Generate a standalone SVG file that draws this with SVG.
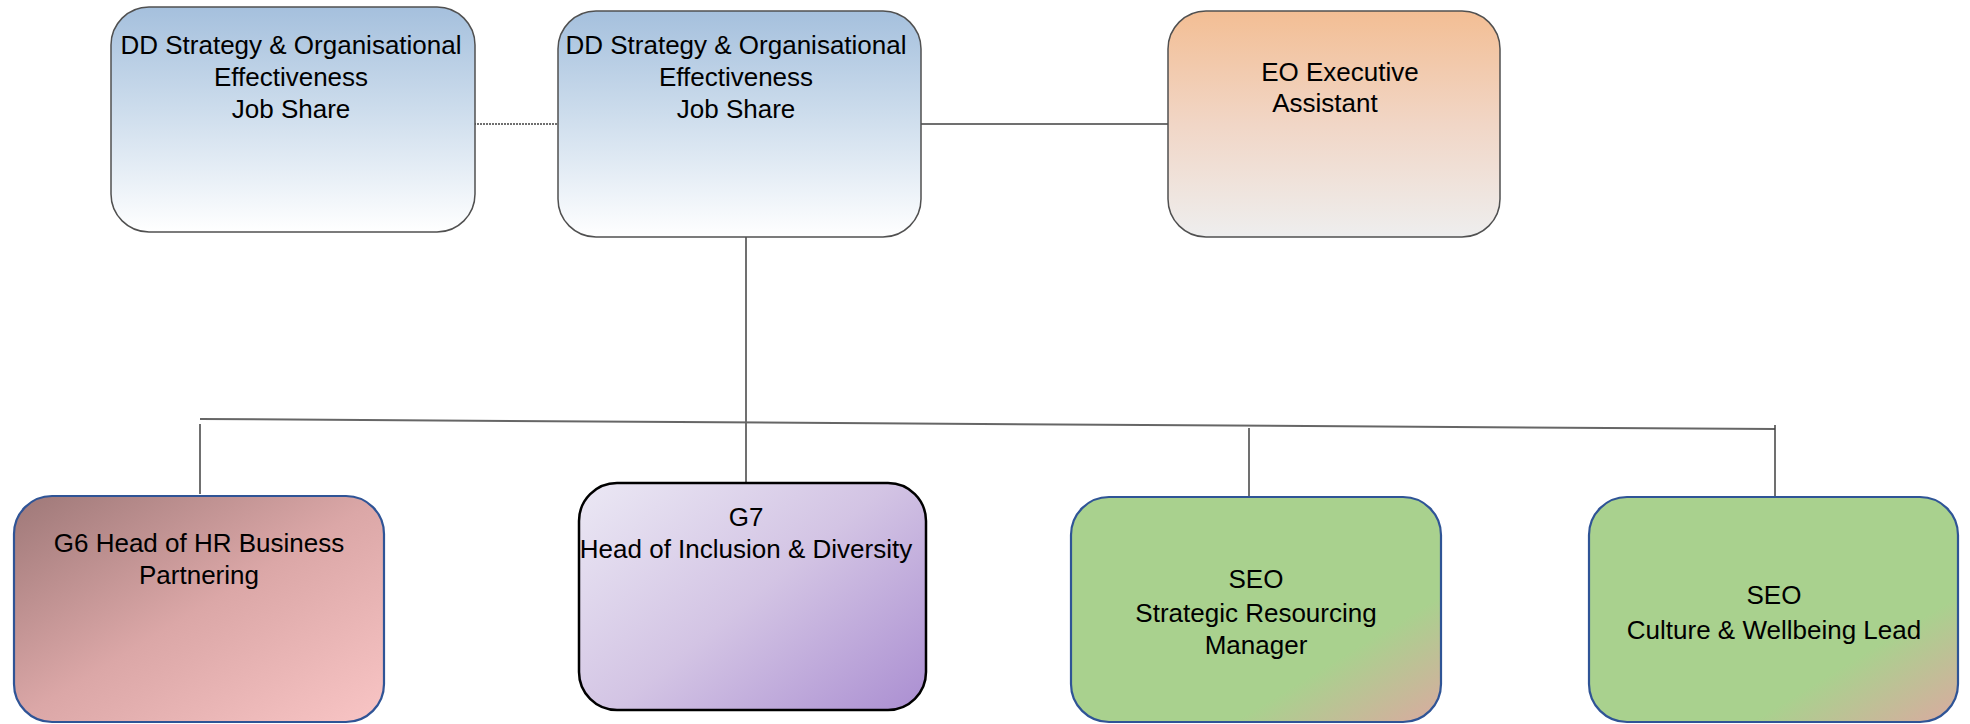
<svg xmlns="http://www.w3.org/2000/svg" width="1970" height="724" viewBox="0 0 1970 724">
<defs>
<linearGradient id="gBlue" x1="0" y1="0" x2="0" y2="1">
<stop offset="0" stop-color="#A5C0DD"/>
<stop offset="0.45" stop-color="#CCDCEC"/>
<stop offset="1" stop-color="#FFFFFF"/>
</linearGradient>
<linearGradient id="gOrange" x1="0" y1="0" x2="0" y2="1">
<stop offset="0" stop-color="#F3BE94"/>
<stop offset="0.5" stop-color="#F1D6C6"/>
<stop offset="1" stop-color="#EEEEEE"/>
</linearGradient>
<linearGradient id="gRose" x1="0" y1="0" x2="1" y2="1">
<stop offset="0" stop-color="#9E7878"/>
<stop offset="0.5" stop-color="#DBA7A7"/>
<stop offset="1" stop-color="#F9C5C5"/>
</linearGradient>
<linearGradient id="gPurple" x1="0" y1="0.1" x2="1" y2="0.9">
<stop offset="0" stop-color="#E9E5F3"/>
<stop offset="0.5" stop-color="#D3C4E4"/>
<stop offset="1" stop-color="#AE93D3"/>
</linearGradient>
<linearGradient id="gGreen" x1="0" y1="0" x2="1" y2="1">
<stop offset="0" stop-color="#A9D18E"/>
<stop offset="0.72" stop-color="#A9D18E"/>
<stop offset="1" stop-color="#DAAAA0"/>
</linearGradient>
</defs>
<style>
text{font-family:"Liberation Sans",Arial,sans-serif;font-size:26px;fill:#000;text-anchor:middle}
.top{stroke:#505050;stroke-width:1.5}
.blue{stroke:#2F5496;stroke-width:2.2}
.blk{stroke:#000;stroke-width:2.5}
.ln{stroke:#404040;stroke-width:1.5;fill:none}
.lg{stroke:#666;stroke-width:2;fill:none}
</style>
<rect width="1970" height="724" fill="#fff"/>
<g id="connectors">
<line class="ln" x1="468" y1="124" x2="557" y2="124" stroke-dasharray="2,1"/>
<line class="ln" x1="921" y1="124" x2="1168" y2="124"/>
<line class="ln" x1="746" y1="237" x2="746" y2="483"/>
<line class="lg" x1="200" y1="419" x2="1775" y2="429"/>
<line class="ln" x1="200" y1="424" x2="200" y2="494"/>
<line class="ln" x1="1249" y1="428" x2="1249" y2="497"/>
<line class="ln" x1="1775" y1="425" x2="1775" y2="496"/>
</g>
<g id="dd1">
<rect class="top" x="111" y="7" width="364" height="225" rx="38" fill="url(#gBlue)"/>
<text x="291" y="54">DD Strategy &amp; Organisational</text>
<text x="291" y="86">Effectiveness</text>
<text x="291" y="118">Job Share</text>
</g>
<g id="dd2">
<rect class="top" x="558" y="11" width="363" height="226" rx="38" fill="url(#gBlue)"/>
<text x="736" y="54">DD Strategy &amp; Organisational</text>
<text x="736" y="86">Effectiveness</text>
<text x="736" y="118">Job Share</text>
</g>
<g id="eo">
<rect class="top" x="1168" y="11" width="332" height="226" rx="38" fill="url(#gOrange)"/>
<text x="1340" y="81">EO Executive</text>
<text x="1325" y="112">Assistant</text>
</g>
<g id="g6">
<rect class="blue" x="14" y="496" width="370" height="226" rx="38" fill="url(#gRose)"/>
<text x="199" y="552">G6 Head of HR Business</text>
<text x="199" y="584">Partnering</text>
</g>
<g id="g7">
<rect class="blk" x="579" y="483" width="347" height="227" rx="38" fill="url(#gPurple)"/>
<text x="746" y="526">G7</text>
<text x="746" y="558">Head of Inclusion &amp; Diversity</text>
</g>
<g id="seo1">
<rect class="blue" x="1071" y="497" width="370" height="225" rx="38" fill="url(#gGreen)"/>
<text x="1256" y="588">SEO</text>
<text x="1256" y="622">Strategic Resourcing</text>
<text x="1256" y="654">Manager</text>
</g>
<g id="seo2">
<rect class="blue" x="1589" y="497" width="369" height="225" rx="38" fill="url(#gGreen)"/>
<text x="1774" y="604">SEO</text>
<text x="1774" y="639">Culture &amp; Wellbeing Lead</text>
</g>
</svg>
